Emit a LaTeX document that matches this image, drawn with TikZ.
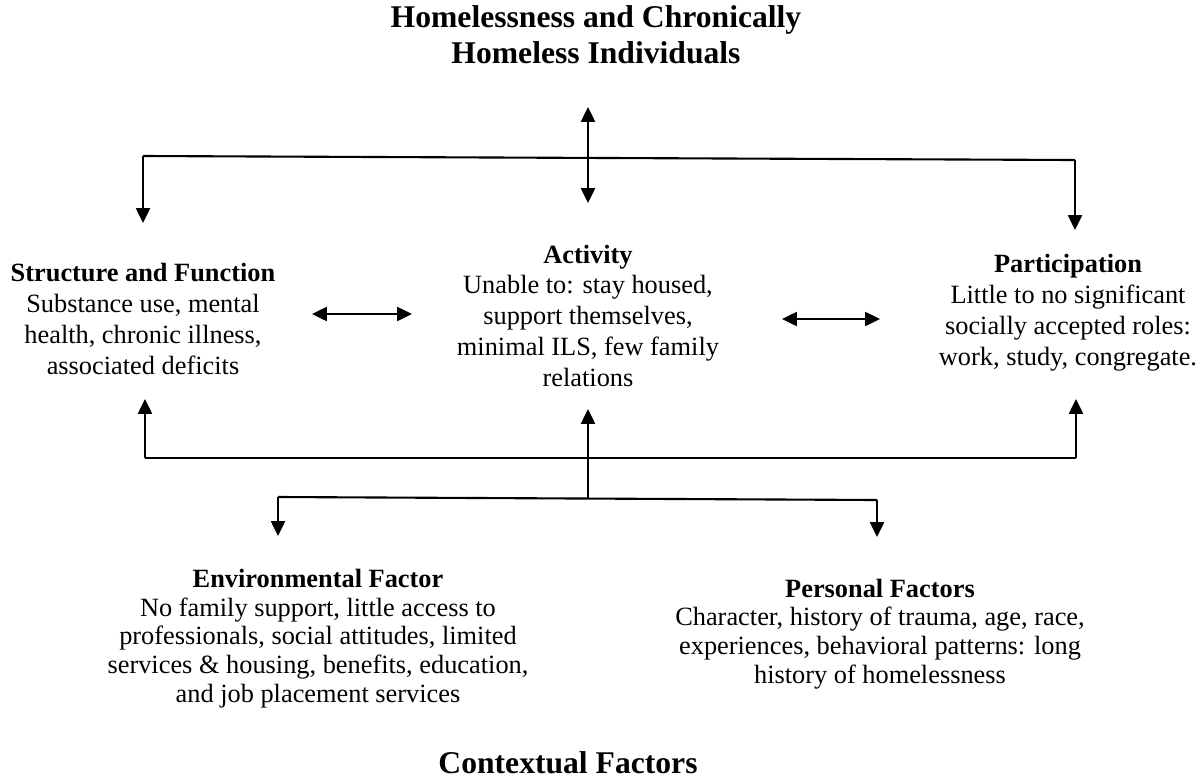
\documentclass[tikz,border=0pt]{standalone}
\usepackage{fontspec}
\setmainfont{Liberation Serif}
\usetikzlibrary{arrows.meta}

\tikzset{
  txt/.style={align=center, inner sep=0pt, anchor=base,
    font=\fontsize{15}{17.5}\selectfont},
  tight/.style={txt, font=\fontsize{15}{16.3}\selectfont},
  heading/.style={align=center, inner sep=0pt, anchor=base,
    font=\fontsize{18}{20}\selectfont\bfseries},
}

\begin{document}
\begin{tikzpicture}[x=0.02cm,y=-0.02cm, line width=1.2pt,
  >={Triangle[length=8.5pt,width=8pt]}]
\useasboundingbox (0,0) rectangle (1201,778);

% base = baseline of the last line
\node[heading] (home) at (596,63) {Homelessness and Chronically\\Homeless Individuals};
\node[txt] (struct) at (143,374) {\textbf{Structure and Function}\\Substance use, mental\\health, chronic illness,\\associated deficits};
\node[txt] (act) at (588,386) {\textbf{Activity}\\Unable to: stay housed,\\support themselves,\\minimal ILS, few family\\relations};
\node[txt] (part) at (1068,365) {\textbf{Participation}\\Little to no significant\\socially accepted roles:\\work, study, congregate.};
\node[tight] (env) at (318,702) {\textbf{Environmental Factor}\\No family support, little access to\\professionals, social attitudes, limited\\services \& housing, benefits, education,\\and job placement services};
\node[tight] (pers) at (880,683) {\textbf{Personal Factors}\\Character, history of trauma, age, race,\\experiences, behavioral patterns: long\\history of homelessness};
\node[heading] (ctx) at (568,773) {Contextual Factors};

% top branch
\coordinate (top-l) at (143,156);
\coordinate (top-r) at (1075,160);
\coordinate (top-up) at (588,107);
\coordinate (top-dn) at (588,203);
\coordinate (struct-in) at (143,223);
\coordinate (part-in) at (1075,230);
\draw (top-l) -- (top-r);
\draw[<->] (top-up) -- (top-dn);
\draw[->] (top-l) -- (struct-in);
\draw[->] (top-r) -- (part-in);

% side links
\coordinate (struct-e) at (312,314);
\coordinate (act-w) at (412,314);
\coordinate (act-e) at (782,319);
\coordinate (part-w) at (880,319);
\draw[<->] (struct-e) -- (act-w);
\draw[<->] (act-e) -- (part-w);

% bottom branch
\coordinate (bot-l) at (145,458);
\coordinate (bot-r) at (1076,458);
\coordinate (struct-s) at (145,399);
\coordinate (part-s) at (1076,399);
\coordinate (act-s) at (588,409);
\coordinate (ctx-top) at (588,498);
\coordinate (ctx-l) at (278,497);
\coordinate (ctx-r) at (877,500);
\coordinate (env-in) at (278,536);
\coordinate (pers-in) at (877,537);
\draw[->] (bot-l) -- (struct-s);
\draw[->] (bot-r) -- (part-s);
\draw (bot-l) -- (bot-r);
\draw[->] (ctx-top) -- (act-s);
\draw (ctx-l) -- (ctx-r);
\draw[->] (ctx-l) -- (env-in);
\draw[->] (ctx-r) -- (pers-in);
\end{tikzpicture}
\end{document}
